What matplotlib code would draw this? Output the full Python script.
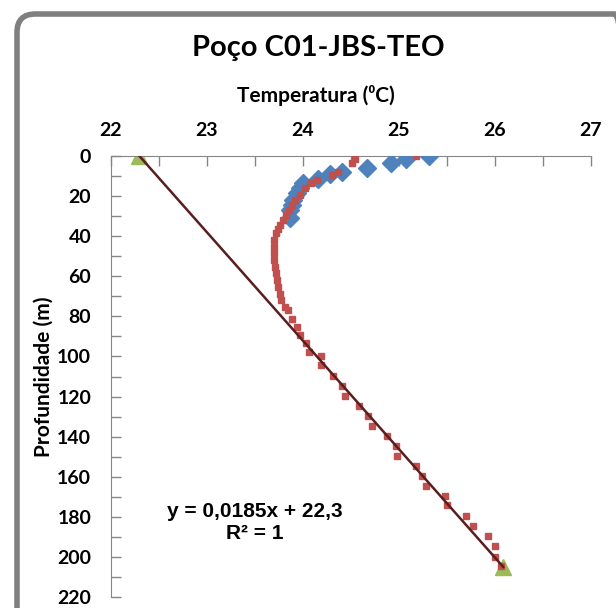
import matplotlib.pyplot as plt
from matplotlib.patches import FancyBboxPatch
import numpy as np

# medicoes rasas (losangos azuis)
temp_raso = [25.32, 25.08, 24.92, 24.67, 24.41, 24.29, 24.16, 24.00, 23.97, 23.94,
             23.90, 23.89, 23.87, 23.87]
prof_raso = [0, 1.6, 3.7, 5.8, 7.8, 9.1, 11.7, 13.6, 16.1, 18.7, 22.0, 24.4, 27.0, 31.1]

# perfil completo (quadrados vermelhos)
temp_perfil = [25.18, 24.55, 24.51, 24.37, 24.31, 24.15, 24.09, 24.03, 23.97, 23.92,
               23.89, 23.86, 23.83, 23.80, 23.76, 23.74, 23.72, 23.70, 23.70, 23.70,
               23.70, 23.71, 23.72, 23.73, 23.74, 23.76, 23.78, 23.82, 23.85, 23.89,
               23.94, 23.97, 24.04, 24.07, 24.19, 24.19, 24.32, 24.41, 24.44, 24.59,
               24.68, 24.72, 24.88, 24.97, 24.98, 25.18, 25.24, 25.29, 25.48, 25.50,
               25.70, 25.77, 25.93, 26.00, 26.00, 26.07]
prof_perfil = [0, 1.5, 3.7, 7.8, 9.3, 11.8, 13.6, 16.1, 19.5, 22.0,
               24.4, 27.0, 29.4, 31.7, 34.5, 36.5, 38.6, 41.9, 45.2, 48.6,
               51.9, 55.3, 58.5, 61.9, 65.2, 68.6, 71.9, 75.3, 76.9, 81.1,
               85.2, 89.3, 93.5, 97.7, 99.8, 104.4, 109.9, 114.8, 119.8, 124.8,
               129.9, 134.8, 139.8, 144.8, 149.7, 154.8, 159.8, 164.8, 169.7, 174.3,
               179.8, 184.7, 189.7, 194.8, 199.8, 204.7]

# gradiente teorico (triangulos verdes)
temp_teo = [22.3, 26.09]
prof_teo = [0, 205]

fig = plt.figure(figsize=(6.16, 6.08), dpi=100)
fig.patch.set_facecolor("white")

# moldura arredondada do grafico
frame = FancyBboxPatch((17 / 616, -0.1), 1.0, 1.0 - 14 / 608 + 0.1,
                       boxstyle="round,pad=0,rounding_size=0.03",
                       transform=fig.transFigure, facecolor="none",
                       edgecolor="#7f7f7f", linewidth=4, clip_on=False)
fig.patches.append(frame)

ax = fig.add_axes([110.6 / 616, 1 - 597 / 608, 480 / 616, 441 / 608])

ax.plot(temp_teo, prof_teo, linestyle="none", marker="^", markersize=11,
        color="#9BBB59", zorder=2)
ax.plot(temp_raso, prof_raso, linestyle="none", marker="D", markersize=9,
        color="#4F81BD", zorder=3)
ax.plot(temp_perfil, prof_perfil, linestyle="none", marker="s", markersize=4,
        color="#C0504D", zorder=4)

# linha de tendencia
coef = np.polyfit(prof_teo, temp_teo, 1)
pp = np.array([0, 205])
ax.plot(np.polyval(coef, pp), pp, color="#5A1E1E", linewidth=1.8, zorder=5)

ax.set_xlim(22, 27)
ax.set_ylim(220, 0)
ax.xaxis.tick_top()
ax.set_xticks(np.arange(22, 27.1, 1))
ax.set_xticks(np.arange(22, 27.1, 0.5), minor=True)
ax.set_yticks(np.arange(0, 221, 20))
ax.set_yticks(np.arange(0, 221, 10), minor=True)
ax.tick_params(which="both", direction="in", length=7, color="#868686", width=1)
ax.tick_params(axis="x", which="major", pad=12)
ax.tick_params(axis="y", which="major", pad=14)
for lab in ax.get_xticklabels() + ax.get_yticklabels():
    lab.set_fontfamily("Lato")
    lab.set_fontweight("bold")
    lab.set_fontsize(14)

for s in ["right", "bottom"]:
    ax.spines[s].set_visible(False)
for s in ["left", "top"]:
    ax.spines[s].set_color("#868686")

fig.text(0.516, 1 - 48 / 608, "Poço C01-JBS-TEO", ha="center", va="center",
         fontsize=21, fontweight="bold", family="Lato")
fig.text(0.513, 1 - 95 / 608, "Temperatura (⁰C)", ha="center", va="center",
         fontsize=15, fontweight="bold", family="Lato")
fig.text(44 / 616, 1 - 377 / 608, "Profundidade (m)", ha="center", va="center",
         rotation=90, fontsize=15, fontweight="bold", family="Lato")

ax.text(0.30, 0.168, "y = 0,0185x + 22,3\nR² = 1", transform=ax.transAxes,
        ha="center", va="center", fontsize=15, fontweight="bold",
        family="Liberation Sans", linespacing=1.2)

fig.savefig("out.png", dpi=100)
